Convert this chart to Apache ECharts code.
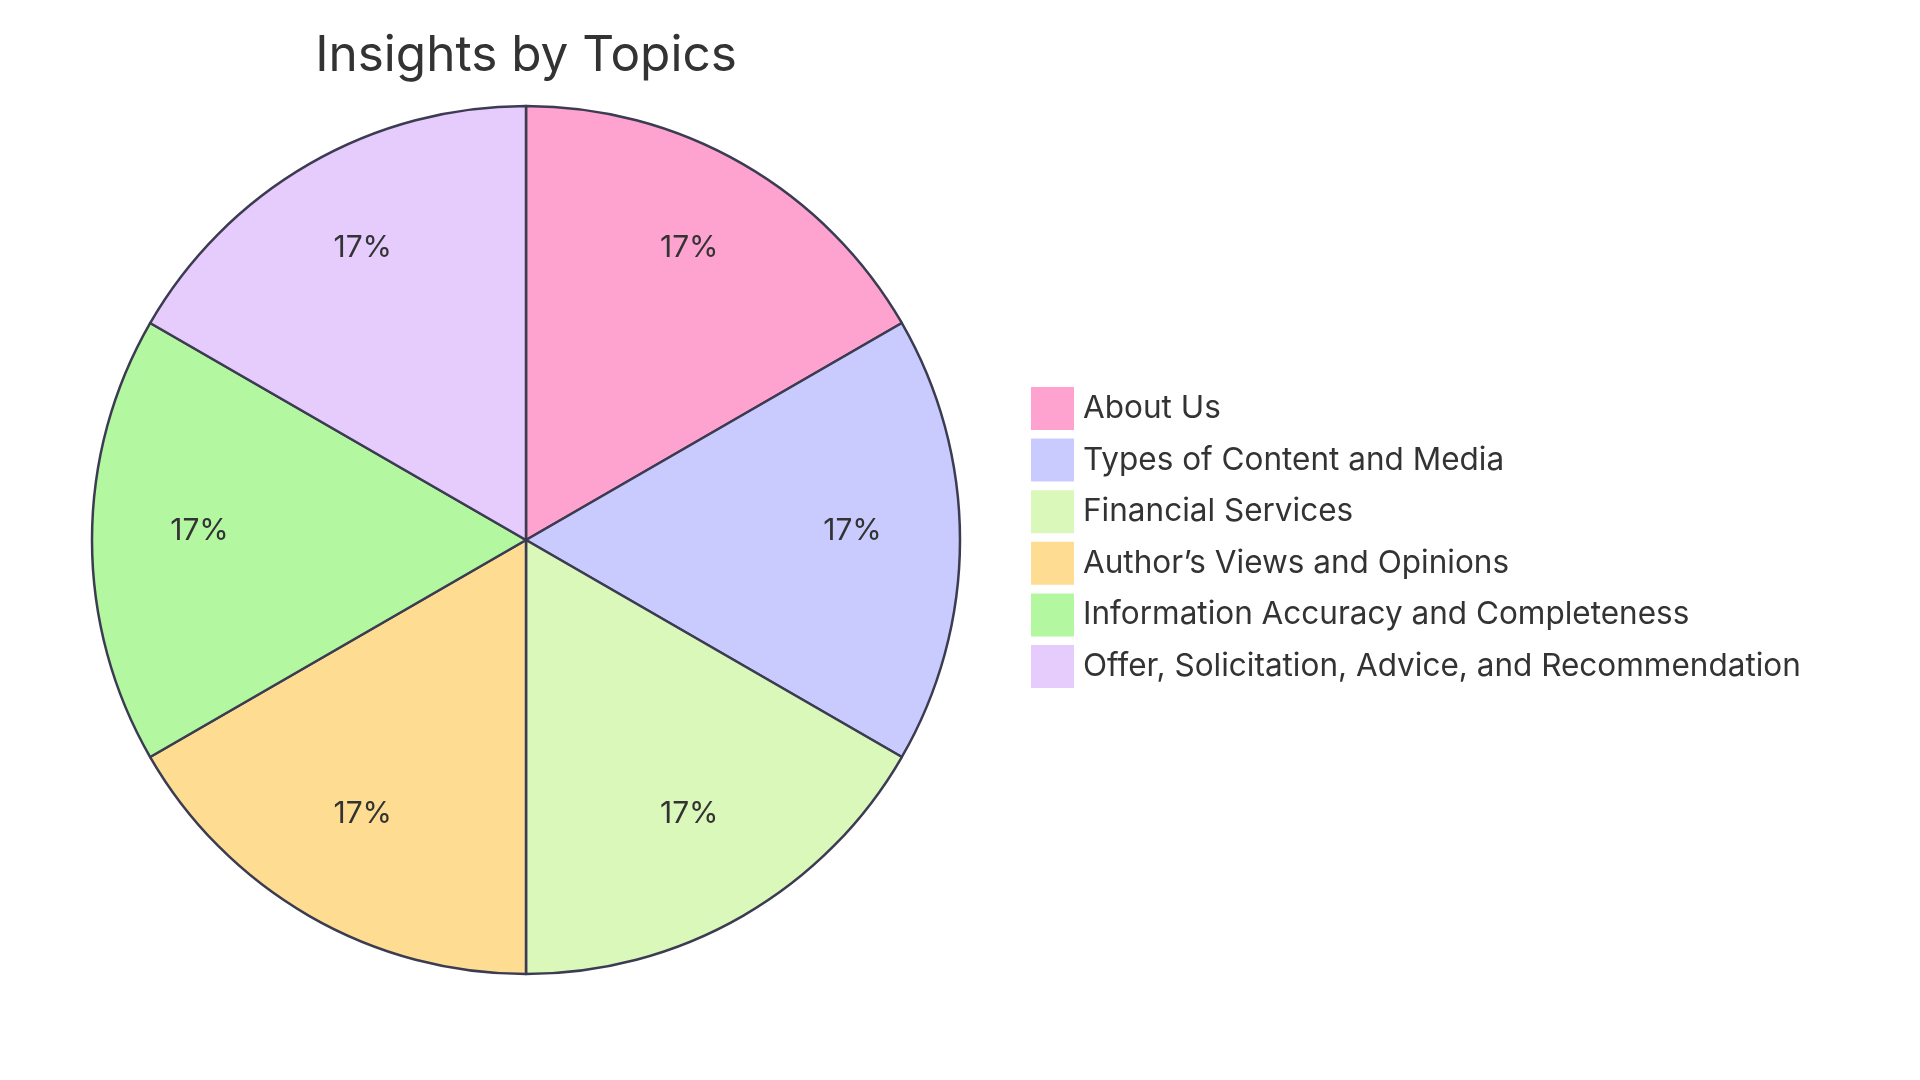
<!DOCTYPE html>
<html>
<head>
<meta charset="utf-8">
<style>html,body{margin:0;padding:0;background:#fff}#c{width:1920px;height:1080px}</style>
<script src="https://cdn.jsdelivr.net/npm/echarts@6/dist/echarts.min.js"></script>
</head>
<body>
<div id="c"></div>
<script>
const titleText = 'Insights by Topics';
const categories = ['About Us','Types of Content and Media','Financial Services','Author\u2019s Views and Opinions','Information Accuracy and Completeness','Offer, Solicitation, Advice, and Recommendation'];
const values = [1,1,1,1,1,1];
const colors = ['#FEA3CF','#C9CBFE','#DBF8BB','#FEDD92','#B3F7A0','#E6CBFD'];

const FONT = 'Inter, "Noto Sans", sans-serif';
const chart = echarts.init(document.getElementById('c'), null, {renderer:'canvas'});
const R = 434;
const center = [526, 540];
const mainData = categories.map((n,i)=>({name:n, value:values[i], itemStyle:{color:colors[i]}}));
const total = values.reduce((a,b)=>a+b,0);
chart.setOption({
  animation:false,
  title:{text:titleText, left:521, top:26, textAlign:'center',
    textStyle:{fontFamily:FONT, fontSize:49.5, fontWeight:'normal', color:'#333'}},
  legend:{orient:'vertical', left:1026, top:382, icon:'rect', itemWidth:43, itemHeight:43, itemGap:8.6,
    data:categories,
    itemStyle:{borderWidth:0},
    textStyle:{fontFamily:FONT, fontSize:31.5, color:'#333', padding:[0,0,0,4]}},
  series:[
    {type:'pie', center:center, radius:[0,R], startAngle:90, clockwise:true, silent:true,
     label:{show:false}, labelLine:{show:false},
     itemStyle:{borderColor:'#3b3b52', borderWidth:2.5},
     emphasis:{disabled:true},
     data:mainData},
    {type:'pie', center:center, radius:[Math.round(R*0.49),R], startAngle:90, clockwise:true, silent:true,
     legendHoverLink:false,
     itemStyle:{color:'rgba(0,0,0,0)', borderWidth:0},
     label:{show:true, position:'inside', offset:[0,-9], fontFamily:FONT, fontSize:30, color:'#333',
       formatter:p=>Math.round(p.value/total*100)+'%'},
     labelLine:{show:false},
     emphasis:{disabled:true},
     data:categories.map((n,i)=>({name:n+' ', value:values[i]}))}
  ]
});
</script>
</body>
</html>
